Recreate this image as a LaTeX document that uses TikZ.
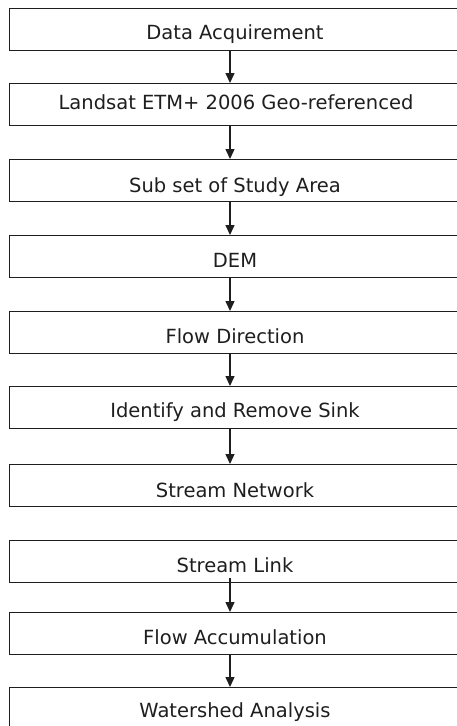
\documentclass[tikz,border=0pt]{standalone}
\usepackage{fontspec}
\setmainfont{DejaVu Sans}
\usetikzlibrary{arrows.meta,calc}
\definecolor{ink}{HTML}{1E1E1E}
\tikzset{
  box/.style={draw=ink, line width=1.3pt, rectangle, anchor=north west, minimum width=461pt, minimum height=42pt, inner sep=0pt},
  lbl/.style={anchor=base, inner sep=0pt, text=ink, font=\fontsize{19.5}{22}\selectfont},
  arr/.style={draw=ink, line width=1.3pt, -{Triangle[width=9pt,length=10pt]}}
}
\begin{document}
\begin{tikzpicture}[x=1pt,y=-1pt]
\useasboundingbox (0,0) rectangle (457,726);
\clip (0,0) rectangle (457,726);
\coordinate (ax) at (230,0);
\node[box] (b1) at (9,8) {};
\node[box] (b2) at (9,83) {};
\node[box] (b3) at (9,159) {};
\node[box] (b4) at (9,235) {};
\node[box] (b5) at (9,311) {};
\node[box] (b6) at (9,386) {};
\node[box] (b7) at (9,464) {};
\node[box] (b8) at (9,540) {};
\node[box] (b9) at (9,612) {};
\node[box] (b10) at (9,687) {};
\node[lbl] (t1) at (235,39) {Data Acquirement};
\node[lbl] (t2) at (236,109) {Landsat ETM+ 2006 Geo-referenced};
\node[lbl] (t3) at (235,192) {Sub set of Study Area};
\node[lbl] (t4) at (235,267) {DEM};
\node[lbl] (t5) at (235,343) {Flow Direction};
\node[lbl] (t6) at (235,417) {Identify and Remove Sink};
\node[lbl] (t7) at (235,497) {Stream Network};
\node[lbl] (t8) at (235,572) {Stream Link};
\node[lbl] (t9) at (235,644) {Flow Accumulation};
\node[lbl] (t10) at (235,717) {Watershed Analysis};
\draw[arr] (b1.south -| ax) -- (b2.north -| ax);
\draw[arr] (b2.south -| ax) -- (b3.north -| ax);
\draw[arr] (b3.south -| ax) -- (b4.north -| ax);
\draw[arr] (b4.south -| ax) -- (b5.north -| ax);
\draw[arr] (b5.south -| ax) -- (b6.north -| ax);
\draw[arr] (b6.south -| ax) -- (b7.north -| ax);
\draw[arr] ($(b8.south -| ax)+(0,-5)$) -- (b9.north -| ax);
\draw[arr] (b9.south -| ax) -- (b10.north -| ax);
\end{tikzpicture}
\end{document}
